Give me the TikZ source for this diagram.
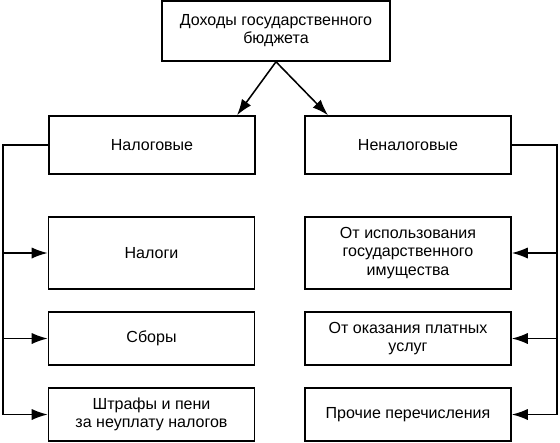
\documentclass[tikz,border=0pt]{standalone}
\usepackage{fontspec}
\setmainfont{Liberation Sans}
\usetikzlibrary{positioning,arrows.meta,calc}

\begin{document}
\begin{tikzpicture}[
  x=0.025cm,y=-0.025cm,
  font=\fontsize{11.4}{12.9}\selectfont,>={Latex[length=4mm,width=2.8mm]},
  box/.style={draw,line width=1.1pt,align=center,inner sep=2pt,
              minimum width=5.15cm},
  arr/.style={->,line width=1.1pt},
  lnk/.style={line width=1.1pt},
]
  \useasboundingbox (0,0) rectangle (560,442);

  % top level
  \node[box,minimum width=5.7cm,minimum height=1.5cm] (rev) at (276,31)
    {Доходы государственного\\бюджета};

  % two groups
  \node[box,minimum height=1.45cm] (tax)  at (152,145) {Налоговые};
  \node[box,minimum height=1.45cm] (ntax) at (408,145) {Неналоговые};
  \draw[arr] (rev.south) -- (tax.north -| 237,0);
  \draw[arr] (rev.south) -- (ntax.north -| 328,0);

  % tax items
  \node[box,minimum height=1.8cm]  (t1) at (151.5,253)   {Налоги};
  \node[box,minimum height=1.32cm] (t2) at (151.5,338.5) {Сборы};
  \node[box,minimum height=1.32cm] (t3) at (151.5,414.5)
    {Штрафы и пени\\за неуплату налогов};

  % non-tax items
  \node[box,minimum height=1.8cm]  (n1) at (408,253)
    {От использования\\государственного\\имущества};
  \node[box,minimum height=1.32cm] (n2) at (408,338.5)
    {От оказания платных\\услуг};
  \node[box,minimum height=1.32cm] (n3) at (408,414.5) {Прочие перечисления};

  % trunks
  \coordinate (lt) at (3,145);
  \coordinate (rt) at (557,145);
  \draw[lnk] (tax.west) -- (lt) -- (lt |- t3.west);
  \draw[lnk] (ntax.east) -- (rt) -- (rt |- n3.east);
  \foreach \i in {1,2,3} {
    \draw[arr] (lt |- t\i.west) -- (t\i.west);
    \draw[arr] (rt |- n\i.east) -- (n\i.east);
  }
\end{tikzpicture}
\end{document}
